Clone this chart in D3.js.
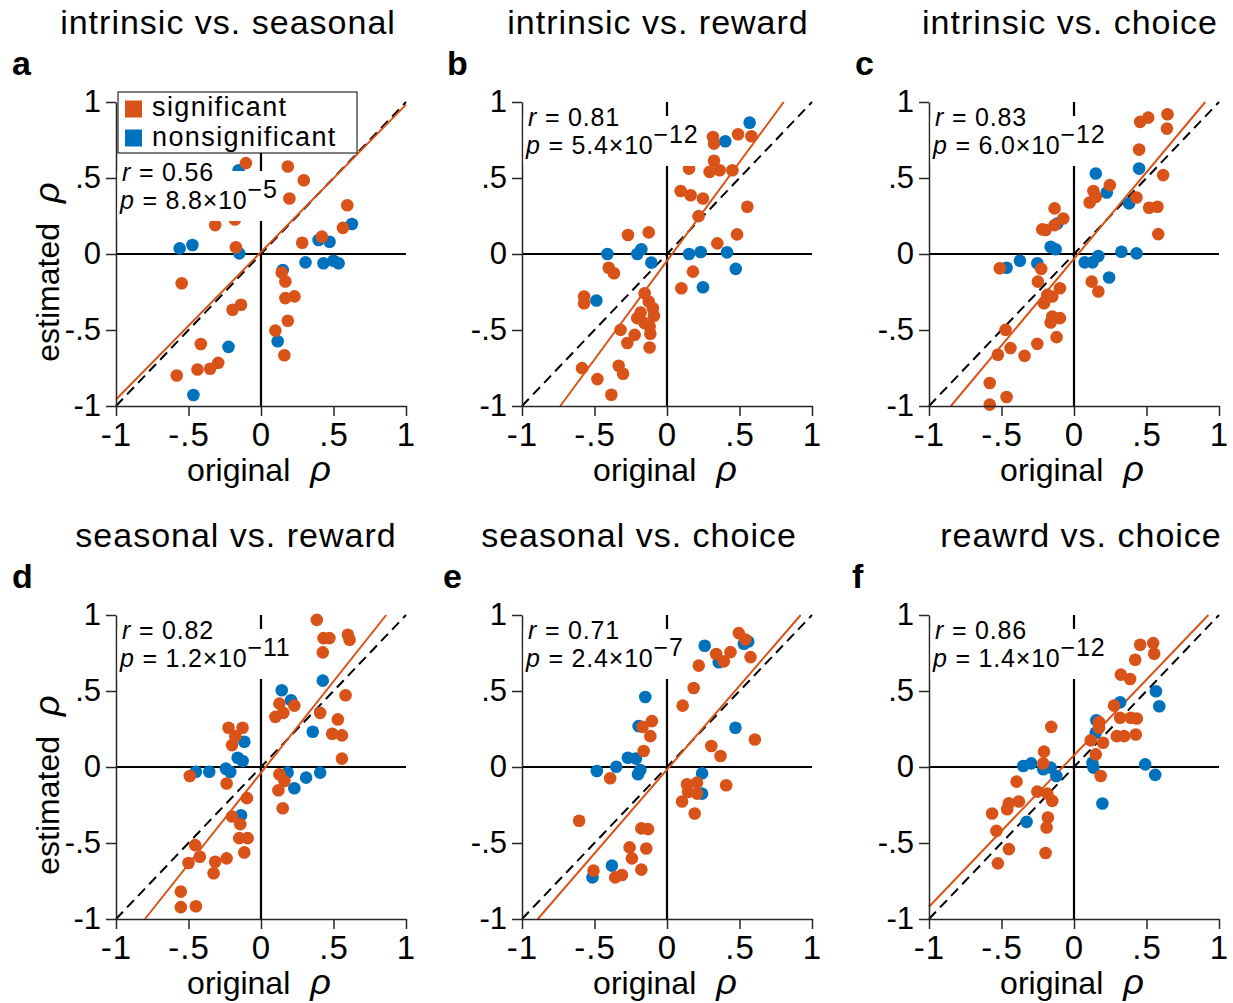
<!DOCTYPE html>
<html lang="en">
<head>
<meta charset="utf-8">
<style>
    body { margin: 0; background: #fff; }
    svg { display: block; font-family: "Liberation Sans", Arial, Helvetica, sans-serif; }
</style>
</head>
<body>
<svg width="1233" height="1003"></svg>
<script src="https://cdn.jsdelivr.net/npm/d3@7/dist/d3.min.js"></script>
<script>
    /************************************************************************************
    * Data
    ************************************************************************************/
    const letters = ["a", "b", "c", "d", "e", "f"];
    const titles = ["intrinsic vs. seasonal", "intrinsic vs. reward", "intrinsic vs. choice",
                    "seasonal vs. reward", "seasonal vs. choice", "reawrd vs. choice"];
    const rValues = ["0.56", "0.81", "0.83", "0.82", "0.71", "0.86"];
    const pMantissa = ["8.8", "5.4", "6.0", "1.2", "2.4", "1.4"];
    const pExponent = ["\u22125", "\u221212", "\u221212", "\u221211", "\u22127", "\u221212"];
    // fitted regression line (estimated = slope * original + intercept)
    const fitSlope = [0.97, 1.298, 1.14, 1.202, 1.103, 0.996];
    const fitIntercept = [0.013, -0.045, -0.032, -0.038, -0.017, 0.077];
    const tickValues = [-1, -0.5, 0, 0.5, 1];
    const tickLabels = ["-1", "-.5", "0", ".5", "1"];
    const legendLabels = ["significant", "nonsignificant"];

    // [original rho, estimated rho]
    const sigA = [[-0.104,0.598],[0.185,0.576],[0.295,0.485],[0.196,0.365],[0.595,0.321],[-0.316,0.190],
        [-0.180,0.227],[0.565,0.172],[-0.173,0.044],[0.284,0.074],[0.420,0.114],[-0.547,-0.192],
        [0.143,-0.122],[0.168,-0.181],[0.168,-0.290],[0.231,-0.279],[-0.138,-0.334],[-0.196,-0.367],
        [0.185,-0.439],[0.099,-0.504],[-0.415,-0.592],[0.161,-0.666],[-0.581,-0.799],[-0.438,-0.760],
        [-0.351,-0.755],[-0.295,-0.716]];
    const nonsigA = [[-0.155,0.550],[-0.561,0.037],[-0.473,0.059],[-0.150,0.004],[0.397,0.092],[0.473,0.081],
        [0.627,0.197],[0.307,-0.055],[0.431,-0.061],[0.500,-0.044],[0.535,-0.061],[0.150,-0.105],
        [0.115,-0.574],[-0.224,-0.611],[-0.466,-0.928]];

    const sigB = [[0.317,0.770],[0.324,0.726],[0.490,0.788],[0.582,0.775],[0.152,0.562],[0.324,0.613],
        [0.294,0.540],[0.363,0.551],[0.451,0.551],[0.094,0.414],[0.163,0.387],[0.248,0.365],[0.554,0.311],
        [0.218,0.249],[-0.269,0.125],[-0.126,0.142],[0.347,0.070],[0.483,0.129],[-0.402,-0.090],
        [-0.366,-0.127],[0.179,-0.116],[0.099,-0.225],[-0.572,-0.280],[-0.572,-0.324],[-0.154,-0.258],
        [-0.126,-0.313],[-0.097,-0.357],[-0.182,-0.385],[-0.090,-0.407],[-0.205,-0.422],[-0.154,-0.455],
        [-0.120,-0.477],[-0.320,-0.499],[-0.223,-0.532],[-0.115,-0.525],[-0.274,-0.586],[-0.120,-0.615],
        [-0.586,-0.751],[-0.480,-0.823],[-0.333,-0.735],[-0.303,-0.788],[-0.384,-0.926]];
    const nonsigB = [[0.570,0.864],[0.402,0.742],[-0.411,0.000],[-0.205,0.000],[-0.177,0.031],[-0.108,-0.057],
        [0.152,0.000],[0.232,0.013],[0.414,0.011],[0.474,-0.098],[0.248,-0.219],[-0.487,-0.306]];

    const sigC = [[0.456,0.869],[0.512,0.897],[0.645,0.919],[0.641,0.825],[0.449,0.687],[0.615,0.519],
        [0.247,0.453],[0.134,0.414],[0.108,0.339],[0.150,0.376],[0.431,0.372],[0.518,0.304],[0.576,0.311],
        [0.581,0.131],[-0.134,0.300],[-0.074,0.234],[-0.134,0.190],[-0.219,0.162],[-0.196,0.158],
        [-0.512,-0.094],[-0.226,-0.098],[-0.249,-0.182],[0.122,-0.182],[0.168,-0.247],[-0.097,-0.225],
        [-0.184,-0.269],[-0.150,-0.280],[-0.207,-0.324],[-0.150,-0.411],[-0.097,-0.422],[-0.161,-0.451],
        [-0.472,-0.499],[-0.120,-0.547],[-0.253,-0.591],[-0.438,-0.619],[-0.525,-0.663],[-0.341,-0.670],
        [-0.581,-0.849],[-0.465,-0.941],[-0.581,-0.991]];
    const nonsigC = [[0.150,0.530],[0.226,0.405],[0.449,0.562],[0.380,0.333],[-0.115,0.201],[-0.161,0.048],
        [-0.127,0.031],[-0.465,-0.090],[-0.373,-0.044],[-0.253,-0.061],[0.074,-0.055],[0.127,-0.055],
        [0.168,-0.013],[0.327,0.015],[0.431,0.004],[0.242,-0.155]];

    const sigD = [[0.385,0.968],[0.431,0.848],[0.472,0.848],[0.599,0.870],[0.611,0.837],[0.426,0.754],
        [0.583,0.472],[0.408,0.356],[0.530,0.313],[0.491,0.219],[0.558,0.208],[0.558,0.055],[0.230,0.404],
        [0.127,0.417],[0.099,0.330],[0.154,0.356],[-0.224,0.258],[-0.127,0.258],[-0.177,0.203],
        [-0.200,0.144],[-0.491,-0.059],[-0.237,-0.109],[0.127,-0.048],[0.161,-0.092],[0.120,-0.153],
        [0.150,-0.271],[-0.097,-0.205],[-0.200,-0.326],[-0.143,-0.376],[-0.150,-0.468],[-0.092,-0.468],
        [-0.115,-0.562],[-0.454,-0.514],[-0.500,-0.632],[-0.422,-0.590],[-0.316,-0.623],[-0.237,-0.601],
        [-0.327,-0.699],[-0.553,-0.820],[-0.553,-0.922],[-0.449,-0.916]];
    const nonsigD = [[0.426,0.568],[0.143,0.505],[0.207,0.439],[0.357,0.232],[-0.115,0.166],[-0.161,0.061],
        [-0.127,0.039],[-0.449,-0.031],[-0.357,-0.031],[-0.242,-0.011],[-0.212,-0.033],[0.184,-0.037],
        [0.311,-0.070],[0.408,-0.037],[0.230,-0.140],[-0.138,-0.317]];

    const sigE = [[0.495,0.881],[0.541,0.839],[0.576,0.723],[0.339,0.743],[0.438,0.756],[0.392,0.695],
        [0.219,0.667],[0.184,0.520],[0.108,0.404],[0.606,0.181],[0.306,0.138],[0.369,0.072],[0.408,-0.120],
        [0.138,-0.114],[0.207,-0.103],[0.145,-0.164],[0.207,-0.175],[0.104,-0.227],[0.191,-0.306],
        [-0.104,0.302],[-0.168,0.264],[-0.115,0.203],[-0.161,0.105],[-0.392,-0.074],[-0.606,-0.354],
        [-0.177,-0.404],[-0.131,-0.409],[-0.258,-0.529],[-0.143,-0.536],[-0.242,-0.601],[-0.177,-0.675],
        [-0.507,-0.682],[-0.357,-0.726],[-0.311,-0.711]];
    const nonsigE = [[0.260,0.798],[0.530,0.811],[0.560,0.826],[0.357,0.689],[-0.150,0.461],[-0.196,0.269],
        [0.472,0.258],[-0.270,0.061],[-0.214,0.055],[-0.350,0.002],[-0.484,-0.026],[-0.184,-0.020],
        [-0.200,-0.048],[0.242,-0.042],[0.242,-0.175],[-0.514,-0.726],[-0.380,-0.649]];

    const sigF = [[0.456,0.804],[0.546,0.815],[0.553,0.745],[0.422,0.706],[0.323,0.608],[0.387,0.579],
        [0.161,0.623],[0.276,0.404],[0.318,0.324],[0.392,0.324],[0.433,0.319],[0.295,0.203],[0.346,0.203],
        [0.426,0.214],[0.173,0.295],[0.173,0.258],[0.115,0.175],[0.200,0.160],[0.150,0.083],[0.184,-0.059],
        [-0.157,0.264],[-0.207,0.101],[-0.212,0.024],[-0.396,-0.096],[-0.253,-0.162],[-0.184,-0.175],
        [-0.380,-0.227],[-0.449,-0.238],[-0.461,-0.278],[-0.565,-0.306],[-0.150,-0.223],[-0.180,-0.332],
        [-0.189,-0.398],[-0.535,-0.420],[-0.449,-0.540],[-0.196,-0.566],[-0.525,-0.634]];
    const nonsigF = [[0.318,0.426],[0.565,0.498],[0.588,0.400],[0.154,0.308],[0.150,0.225],[-0.350,0.007],
        [-0.295,0.024],[-0.212,-0.015],[-0.161,-0.004],[-0.122,-0.059],[0.127,0.028],[0.134,-0.004],
        [0.491,0.017],[0.560,-0.052],[0.196,-0.240],[-0.327,-0.361]];

    const sigSets = [sigA, sigB, sigC, sigD, sigE, sigF];
    const nonsigSets = [nonsigA, nonsigB, nonsigC, nonsigD, nonsigE, nonsigF];

    /************************************************************************************
    * Layout
    ************************************************************************************/
    const colX = [116, 522, 929];
    const rowY = [102, 615];
    const W = 290, H = 304;
    const titleX = [228, 658, 1070, 236, 639, 1081];
    const letterX = [12, 447, 855, 12, 443, 852];
    const orange = "#D95319", blue = "#0072BD", axisColor = "#262626";

    const svg = d3.select("svg");

    // "label rho" with an italic, slightly larger rho
    function rhoLabel(sel, word) {
        sel.append("tspan").text(word);
        sel.append("tspan").attr("font-style", "italic").attr("font-size", 36).attr("dx", 20).text("\u03C1");
    }

    letters.forEach((letter, i) => {
        const left = colX[i % 3];
        const top = rowY[Math.floor(i / 3)];
        const x = d3.scaleLinear().domain([-1, 1]).range([left, left + W]);
        const y = d3.scaleLinear().domain([-1, 1]).range([top + H, top]);
        const g = svg.append("g");

        // title and panel letter
        g.append("text").attr("x", titleX[i]).attr("y", top - 68)
            .attr("text-anchor", "middle").attr("font-size", 34).attr("letter-spacing", 1)
            .text(titles[i]);
        g.append("text").attr("x", letterX[i]).attr("y", top - 27)
            .attr("font-size", 34).attr("font-weight", "bold").text(letter);

        // zero lines
        g.append("line").attr("x1", x(-1)).attr("x2", x(1)).attr("y1", y(0)).attr("y2", y(0))
            .attr("stroke", "#000").attr("stroke-width", 2.2);
        g.append("line").attr("x1", x(0)).attr("x2", x(0)).attr("y1", y(-1)).attr("y2", y(1))
            .attr("stroke", "#000").attr("stroke-width", 2.2);

        // identity line
        g.append("line").attr("x1", x(-1)).attr("y1", y(-1)).attr("x2", x(1)).attr("y2", y(1))
            .attr("stroke", "#000").attr("stroke-width", 2).attr("stroke-dasharray", "10,6");

        // fitted line, clipped to the [-1, 1] box
        const fx = v => (v - fitIntercept[i]) / fitSlope[i];
        const x0 = Math.max(-1, fx(-1)), x1 = Math.min(1, fx(1));
        g.append("line")
            .attr("x1", x(x0)).attr("y1", y(fitSlope[i] * x0 + fitIntercept[i]))
            .attr("x2", x(x1)).attr("y2", y(fitSlope[i] * x1 + fitIntercept[i]))
            .attr("stroke", orange).attr("stroke-width", 2);

        // points: nonsignificant first, significant on top
        g.selectAll(".ns").data(nonsigSets[i]).enter().append("circle")
            .attr("cx", d => x(d[0])).attr("cy", d => y(d[1])).attr("r", 6.3).attr("fill", blue);
        g.selectAll(".sg").data(sigSets[i]).enter().append("circle")
            .attr("cx", d => x(d[0])).attr("cy", d => y(d[1])).attr("r", 6.3).attr("fill", orange);

        // axes
        const yAxis = g.append("g").attr("transform", `translate(${left},0)`)
            .call(d3.axisLeft(y).tickValues(tickValues).tickFormat((d, k) => tickLabels[k])
                .tickSizeInner(10).tickSizeOuter(0).tickPadding(5));
        const xAxis = g.append("g").attr("transform", `translate(0,${top + H})`)
            .call(d3.axisBottom(x).tickValues(tickValues).tickFormat((d, k) => tickLabels[k])
                .tickSizeInner(10).tickSizeOuter(0).tickPadding(7));
        yAxis.attr("font-size", 31);
        xAxis.attr("font-size", 33).attr("letter-spacing", 1);
        [yAxis, xAxis].forEach(ax => {
            ax.attr("font-family", null);
            ax.select(".domain").attr("stroke", axisColor).attr("stroke-width", 1.5);
            ax.selectAll(".tick line").attr("stroke", axisColor).attr("stroke-width", 1.5);
            ax.selectAll(".tick text").attr("fill", "#000");
        });

        // axis labels
        const xl = g.append("text").attr("x", left + W / 2 - 2).attr("y", top + H + 75)
            .attr("text-anchor", "middle").attr("font-size", 32);
        rhoLabel(xl, "original");
        if (i % 3 === 0) {
            const yl = g.append("text")
                .attr("transform", `translate(${left - 57},${top + 170}) rotate(-90)`)
                .attr("text-anchor", "middle").attr("font-size", 32);
            rhoLabel(yl, "estimated");
        }

        // statistics text with white background (one text object, two lines)
        const rBase = i === 0 ? 181 : top + 24;
        const pBase = rBase + 28;
        const box = g.append("rect").attr("fill", "#fff");
        const st = g.append("text").attr("font-size", 25).attr("letter-spacing", 0.8);
        st.append("tspan").attr("x", left + 6).attr("y", rBase).attr("font-style", "italic").text("r");
        st.append("tspan").text(" = " + rValues[i]);
        st.append("tspan").attr("x", left + 4).attr("y", pBase).attr("font-style", "italic").text("p");
        st.append("tspan").text(" = " + pMantissa[i] + "\u00D710");
        st.append("tspan").attr("dy", -11).text(pExponent[i]);
        const bb = st.node().getBBox();
        box.attr("x", left + 1.5).attr("y", rBase - 10)
            .attr("width", bb.x + bb.width + 3 - (left + 1.5)).attr("height", pBase + 12 - (rBase - 10));

        // legend (panel a only)
        if (i === 0) {
            g.append("rect").attr("x", 118).attr("y", 92).attr("width", 239).attr("height", 61)
                .attr("fill", "#fff").attr("stroke", "#000").attr("stroke-width", 1);
            const lt = g.append("text").attr("font-size", 27).attr("letter-spacing", 1.4);
            [orange, blue].forEach((c, k) => {
                g.append("rect").attr("x", 125).attr("y", 100.5 + k * 29).attr("width", 17).attr("height", 17)
                    .attr("fill", c);
                lt.append("tspan").attr("x", 152).attr("y", 116 + k * 30.4).text(legendLabels[k]);
            });
        }
    });
</script>
</body>
</html>
